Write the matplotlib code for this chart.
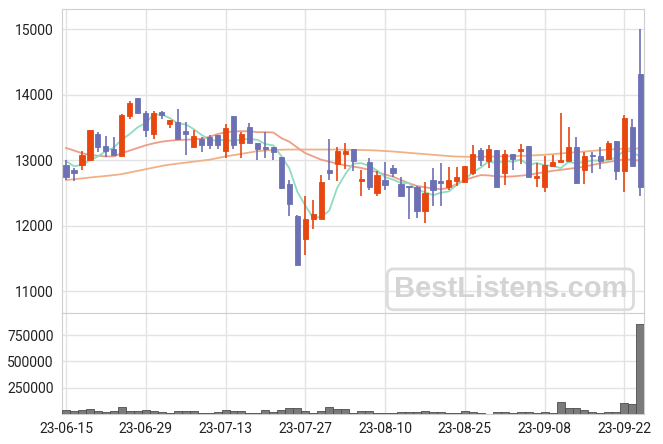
import matplotlib
matplotlib.use("Agg")
import matplotlib.pyplot as plt
import numpy as np

plt.rcParams['font.family'] = ['Roboto', 'DejaVu Sans']

# daily candles, 23-06-15 .. 23-09-26
opens = [12930, 12850, 12930, 13010, 13400, 13220, 13180, 13060, 13680, 13950,
         13730, 13400, 13740, 13550, 13590, 13450, 13210, 13330, 13350, 13390,
         13150, 13680, 13270, 13510, 13270, 13200, 13200, 13050, 12640, 12150,
         11800, 12110, 12100, 12860, 12940, 13090, 13170, 12680, 12970, 12500,
         12700, 12880, 12640, 12610, 12600, 12230, 12700, 12680, 12600, 12690,
         12670, 12810, 13160, 12990, 13160, 12800, 13090, 13140, 13220, 12730,
         12600, 12920, 12980, 12990, 13210, 12860, 13080, 13070, 13020, 13290,
         12830, 13510, 14320]
highs = [13010, 12890, 13150, 13470, 13440, 13370, 13350, 13710, 13900, 13950,
         13760, 13760, 13750, 13620, 13780, 13580, 13470, 13360, 13390, 13390,
         13550, 13680, 13440, 13570, 13270, 13430, 13200, 13050, 12700, 12170,
         12450, 12390, 12780, 13330, 13210, 13270, 13170, 12850, 13040, 12830,
         12970, 12930, 12740, 12610, 12610, 12670, 12890, 12960, 12900, 12900,
         12910, 13230, 13190, 13230, 13160, 13160, 13090, 13250, 13220, 12960,
         13060, 13080, 13730, 13510, 13350, 13120, 13130, 13210, 13290, 13290,
         13690, 13630, 15000]
lows = [12700, 12690, 12860, 12990, 13130, 13050, 13060, 13060, 13630, 13730,
        13360, 13320, 13630, 13500, 13320, 13080, 13210, 13120, 13180, 13180,
        13040, 13180, 13040, 13260, 13000, 13030, 13000, 12560, 12150, 11400,
        11560, 11950, 12100, 12700, 12680, 12870, 12840, 12460, 12550, 12460,
        12550, 12740, 12460, 12110, 12120, 12050, 12300, 12300, 12540, 12610,
        12670, 12780, 12910, 12890, 12600, 12630, 12860, 12950, 12740, 12590,
        12520, 12920, 12980, 12990, 12640, 12640, 12800, 12870, 13020, 12700,
        12520, 12920, 12450]
closes = [12740, 12810, 13080, 13460, 13210, 13150, 13080, 13690, 13880, 13730,
          13470, 13730, 13690, 13610, 13320, 13400, 13370, 13240, 13240, 13240,
          13500, 13230, 13400, 13260, 13180, 13170, 13130, 12580, 12330, 11400,
          12110, 12180, 12670, 12800, 13140, 13140, 12990, 12720, 12600, 12780,
          12630, 12800, 12460, 12600, 12230, 12500, 12550, 12650, 12700, 12740,
          12910, 13100, 13000, 13170, 12600, 13100, 13020, 13170, 12750, 12760,
          12930, 12970, 13000, 13210, 12650, 13070, 13060, 12990, 13260, 12830,
          13650, 12920, 12600]
volumes = [37000, 28000, 37000, 47000, 25000, 16000, 25000, 62000, 25000, 25000,
           37000, 25000, 16000, 9000, 25000, 25000, 25000, 9000, 9000, 16000,
           37000, 25000, 25000, 9000, 9000, 37000, 16000, 37000, 56000, 56000,
           28000, 9000, 25000, 62000, 47000, 47000, 9000, 25000, 25000, 9000,
           9000, 9000, 16000, 16000, 16000, 25000, 16000, 16000, 9000, 9000,
           25000, 16000, 9000, 3000, 16000, 16000, 9000, 16000, 16000, 9000,
           16000, 9000, 110000, 56000, 56000, 37000, 16000, 9000, 16000, 16000,
           100000, 94000, 860000]

ma5 = [12990, 12910, 12930, 13000, 13060, 13142, 13196, 13318, 13402, 13506,
       13570, 13700, 13700, 13646, 13564, 13550, 13478, 13388, 13314, 13298,
       13318, 13290, 13322, 13326, 13314, 13248, 13228, 13064, 12878, 12522,
       12310, 12120, 12138, 12232, 12580, 12786, 12948, 12958, 12918, 12846,
       12744, 12706, 12654, 12654, 12544, 12518, 12468, 12506, 12526, 12628,
       12710, 12820, 12890, 12984, 12956, 12994, 12978, 13012, 12928, 12960,
       12926, 12916, 12882, 12974, 12952, 12980, 12998, 12996, 13006, 13042,
       13158, 13130, 13052]
ma20 = [13190, 13150, 13110, 13085, 13070, 13060, 13060, 13110, 13150, 13190,
        13230, 13260, 13285, 13300, 13310, 13315, 13320, 13330, 13360, 13400,
        13430, 13440, 13445, 13445, 13430, 13430, 13425, 13340, 13285, 13195,
        13110, 13060, 13010, 12980, 12950, 12925, 12905, 12885, 12855, 12820,
        12785, 12750, 12700, 12650, 12610, 12590, 12570, 12560, 12580, 12640,
        12700, 12740, 12775, 12770, 12755, 12750, 12755, 12765, 12780, 12800,
        12820, 12840, 12855, 12870, 12885, 12905, 12930, 12955, 12975, 12995,
        13015, 13010, 12995]
ma60 = [12700, 12712, 12725, 12738, 12750, 12762, 12775, 12790, 12815, 12840,
        12865, 12890, 12915, 12935, 12950, 12965, 12980, 12995, 13010, 13035,
        13060, 13080, 13100, 13120, 13140, 13150, 13158, 13162, 13165, 13165,
        13165, 13165, 13165, 13165, 13165, 13162, 13160, 13158, 13155, 13150,
        13142, 13135, 13125, 13115, 13105, 13095, 13085, 13075, 13065, 13058,
        13055, 13055, 13055, 13058, 13060, 13062, 13065, 13068, 13072, 13078,
        13085, 13095, 13105, 13115, 13125, 13135, 13145, 13155, 13165, 13172,
        13178, 13180, 13182]

tick_labels = ['23-06-15', '23-06-29', '23-07-13', '23-07-27',
               '23-08-10', '23-08-25', '23-09-08', '23-09-22']

up_color = '#e8460f'
down_color = '#6c70b4'
grid_color = '#e3e3e3'
spine_color = '#cfcfcf'

o = np.array(opens)
h = np.array(highs)
l = np.array(lows)
c = np.array(closes)
x = np.arange(len(o))
colors = [up_color if cc >= oo else down_color for oo, cc in zip(o, c)]

fig = plt.figure(figsize=(6.63, 4.44), dpi=100)
ax1 = fig.add_axes([0.0935, 0.295, 0.8783, 0.684])
ax2 = fig.add_axes([0.0935, 0.0676, 0.8783, 0.2274], sharex=ax1)

for ax in (ax1, ax2):
    ax.grid(True, color=grid_color, linewidth=1)
    ax.set_axisbelow(True)
    for s in ax.spines.values():
        s.set_color(spine_color)
    ax.tick_params(length=0, pad=6, labelsize=10, colors='#222222')

# moving averages
ax1.plot(x, ma60, color='#f2b185', linewidth=1.3, zorder=2)
ax1.plot(x, ma20, color='#ee9e86', linewidth=1.3, zorder=2)
ax1.plot(x, ma5, color='#8fdcc0', linewidth=1.3, zorder=2)

# candles
ax1.vlines(x, l, h, colors=colors, linewidth=1.2, zorder=3)
body = np.maximum(np.abs(c - o), 12)
ax1.bar(x, body, bottom=np.minimum(o, c), width=0.65, color=colors,
        edgecolor=colors, linewidth=0.6, zorder=4)

ax1.set_ylim(10670, 15305)
ax1.set_yticks([11000, 12000, 13000, 14000, 15000])
ax1.tick_params(labelbottom=False)

ax1.text(0.77, 0.078, 'BestListens.com', transform=ax1.transAxes,
         ha='center', va='center', fontsize=21, fontweight='bold',
         family='Liberation Sans', color='#d4d4d4', zorder=1,
         bbox=dict(boxstyle='round,pad=0.22', facecolor='none',
                   edgecolor='#dcdcdc', linewidth=2))

# volume
ax2.bar(x, volumes, width=1.0, color='#7b7b7b', edgecolor='#4d4d4d',
        linewidth=0.6, zorder=3)
ax2.set_ylim(0, 960000)
ax2.set_yticks([250000, 500000, 750000])
ax2.set_yticklabels(['250000', '500000', '750000'])
ax2.set_xticks(np.arange(0, 71, 10))
ax2.set_xticklabels(tick_labels)
ax2.set_xlim(-0.5, len(o) - 0.5)

fig.savefig('out.png', dpi=100)
